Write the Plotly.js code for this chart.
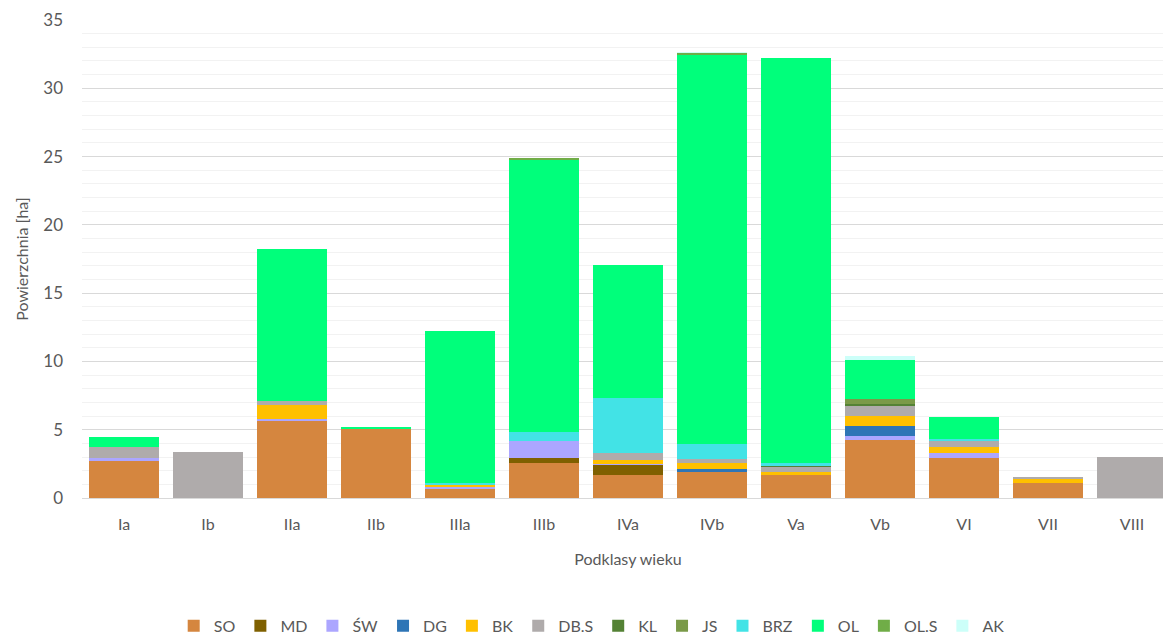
<!DOCTYPE html>
<html>
<head>
<meta charset="utf-8">
<script src="https://cdn.plot.ly/plotly-3.0.1.min.js"></script>
<style>
html,body{margin:0;padding:0;overflow:hidden;background:#fff;}
#chart{width:1174px;height:634px;}
</style>
</head>
<body>
<div id="chart"></div>
<script>
const categories = ['Ia','Ib','IIa','IIb','IIIa','IIIb','IVa','IVb','Va','Vb','VI','VII','VIII'];
const seriesNames = ['SO','MD','ŚW','DG','BK','DB.S','KL','JS','BRZ','OL','OL.S','AK'];

const SO   = [2.70, 0,    5.66, 5.08, 0.68, 2.59, 1.68, 1.93, 1.71, 4.25, 2.95, 1.07, 0];
const MD   = [0,    0,    0,    0,    0,    0.36, 0.74, 0,    0,    0,    0,    0,    0];
const SW   = [0.22, 0,    0.15, 0,    0.12, 1.20, 0.10, 0,    0,    0.31, 0.32, 0.05, 0];
const DG   = [0,    0,    0,    0,    0,    0,    0,    0.19, 0,    0.71, 0,    0,    0];
const BK   = [0,    0,    1.00, 0,    0.13, 0,    0.24, 0.42, 0.17, 0.73, 0.49, 0.25, 0];
const DBS  = [0.78, 3.35, 0.32, 0,    0,    0,    0.51, 0.34, 0.41, 0.74, 0.44, 0.14, 3.00];
const KL   = [0,    0,    0,    0,    0,    0,    0,    0,    0.05, 0.14, 0,    0,    0];
const JS   = [0,    0,    0,    0,    0,    0,    0,    0,    0,    0.39, 0,    0,    0];
const BRZ  = [0,    0,    0,    0,    0.14, 0.66, 4.03, 1.07, 0.22, 0,    0.12, 0,    0];
const OL   = [0.78, 0,    11.10,0.14, 11.16,19.95,9.76, 28.47,29.66,2.83, 1.58, 0,    0];
const OLS  = [0,    0,    0,    0,    0,    0.10, 0,    0.19, 0,    0,    0,    0,    0];
const AK   = [0,    0,    0,    0,    0,    0.03, 0,    0.05, 0,    0.30, 0,    0,    0];

const seriesValues = [SO, MD, SW, DG, BK, DBS, KL, JS, BRZ, OL, OLS, AK];
const seriesColors = ['#D5863F','#7F6000','#ACA6FF','#2E75B6','#FFC000','#AFABAB','#548235','#7A9A48','#42E3E6','#00FF7B','#70AD47','#CCFFF9'];

const traces = seriesNames.map((n, i) => ({
  type: 'bar',
  name: n,
  x: categories,
  y: seriesValues[i],
  marker: {color: seriesColors[i], line: {width: 0}}
}));

const font = 'Lato, "Open Sans", sans-serif';
const layout = {
  width: 1174, height: 634,
  barmode: 'stack',
  bargap: 0.167,
  paper_bgcolor: '#fff', plot_bgcolor: '#fff',
  margin: {l: 82, r: 0, t: 20, b: 136, autoexpand: false},
  font: {family: font, color: '#595959', size: 15},
  showlegend: true,
  legend: {
    orientation: 'h', xref: 'container', yref: 'container',
    x: 0.504, xanchor: 'center', y: 0.013, yanchor: 'middle',
    font: {family: font, size: 16, color: '#595959'},
    traceorder: 'normal', itemwidth: 30, itemclick: false
  },
  xaxis: {
    type: 'category', automargin: false,
    tickfont: {family: font, size: 16, color: '#595959'},
    showline: true, linecolor: '#D9D9D9', linewidth: 1,
    ticks: '', ticklabelstandoff: 12,
    title: {text: 'Podklasy wieku', font: {family: font, size: 16, color: '#595959'}, standoff: 21}
  },
  yaxis: {
    range: [0, 35], dtick: 5, tick0: 0, automargin: false,
    showgrid: true, gridcolor: '#D9D9D9', gridwidth: 1,
    minor: {dtick: 1, showgrid: true, gridcolor: '#F2F2F2', gridwidth: 1},
    zeroline: false, ticks: '', ticklabelstandoff: 18,
    tickfont: {family: font, size: 17, color: '#595959'},
    title: {text: 'Powierzchnia [ha]', font: {family: font, size: 16, color: '#595959'}, standoff: 10}
  }
};

Plotly.newPlot('chart', traces, layout, {displayModeBar: false, staticPlot: true});
</script>
</body>
</html>
